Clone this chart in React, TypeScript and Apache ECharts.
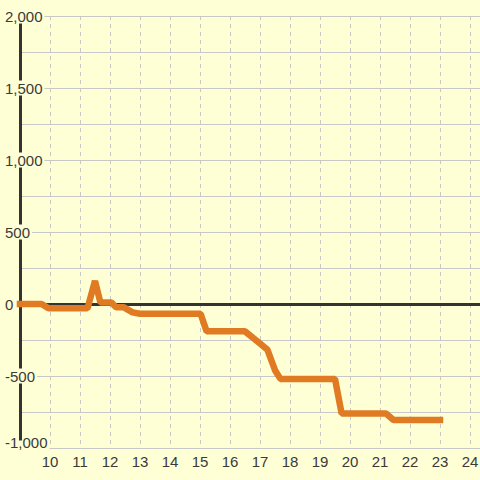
import React, { useEffect, useRef } from "react";
import * as echarts from "echarts";

const times = [9.0, 9.72, 9.95, 11.25, 11.5, 11.68, 12.05, 12.2, 12.45, 12.75, 13.0, 15.02, 15.22, 16.5, 17.0, 17.25, 17.5, 17.68, 19.5, 19.72, 21.2, 21.45, 23.0];
const values = [0, 0, -30, -30, 160, 10, 10, -22, -22, -58, -68, -68, -190, -190, -275, -318, -460, -520, -520, -760, -760, -805, -805];

const xMin = 9;
const xMax = 24 + 1 / 3;
const yMin = -1000;
const yMax = 2000;
const baseline = 0;

const BG = "#ffffd6";
const GRID = "#c8c8c8";
const TEXT = "#3a3a3a";
const FONT = "Liberation Sans";

export default function App() {
  const ref = useRef<HTMLDivElement>(null);
  useEffect(() => {
    if (!ref.current) return;
    const chart = echarts.init(ref.current, null, { renderer: "svg" });
    const seriesData = times.map((t, i) => [t, values[i]]);
    chart.setOption({
      animation: false,
      backgroundColor: BG,
      grid: { left: 20, right: 0, top: 16, bottom: 32, containLabel: false, outerBoundsMode: "none" },
      xAxis: {
        type: "value",
        min: xMin,
        max: xMax,
        interval: 1,
        axisLine: { show: false, onZero: false },
        axisTick: { show: false },
        axisLabel: {
          color: TEXT,
          fontSize: 15,
          fontFamily: FONT,
          margin: 6,
          showMinLabel: false,
          showMaxLabel: false,
          formatter: (v: number) => (Number.isInteger(v) ? String(v) : ""),
        },
        splitLine: { show: true, lineStyle: { color: GRID, width: 1, type: [4, 4] } },
      },
      yAxis: {
        type: "value",
        min: yMin,
        max: yMax,
        interval: 500,
        axisLine: { show: true, onZero: false, lineStyle: { color: "#333333", width: 3 } },
        axisTick: { show: false },
        minorTick: { show: false, splitNumber: 2 },
        axisLabel: {
          color: TEXT,
          fontSize: 15,
          fontFamily: FONT,
          align: "left",
          margin: 16,
          lineHeight: 15,
          backgroundColor: BG,
          padding: [0, 2, 0, 1],
          formatter: (v: number) =>
            v === yMin ? "{lo|" + v.toLocaleString("en-US") + "}" : v.toLocaleString("en-US"),
          rich: {
            lo: { color: TEXT, fontSize: 15, fontFamily: FONT, lineHeight: 15, padding: [0, 0, 12, 0] },
          },
        },
        splitLine: { show: true, lineStyle: { color: GRID, width: 1 } },
        minorSplitLine: { show: true, lineStyle: { color: GRID, width: 1 } },
      },
      series: [
        {
          type: "line",
          data: seriesData,
          showSymbol: false,
          symbol: "none",
          lineStyle: { color: "#e07b24", width: 6.5, cap: "square", join: "bevel" },
          z: 10,
          markLine: {
            silent: true,
            symbol: "none",
            z: 1,
            label: { show: false },
            lineStyle: { color: "#333333", width: 3, type: "solid" },
            data: [{ yAxis: baseline }],
          },
        },
      ],
    });
    return () => chart.dispose();
  }, []);
  return (
    <div
      ref={ref}
      style={{ position: "fixed", left: 0, top: 0, width: 480, height: 480, background: BG }}
    />
  );
}
